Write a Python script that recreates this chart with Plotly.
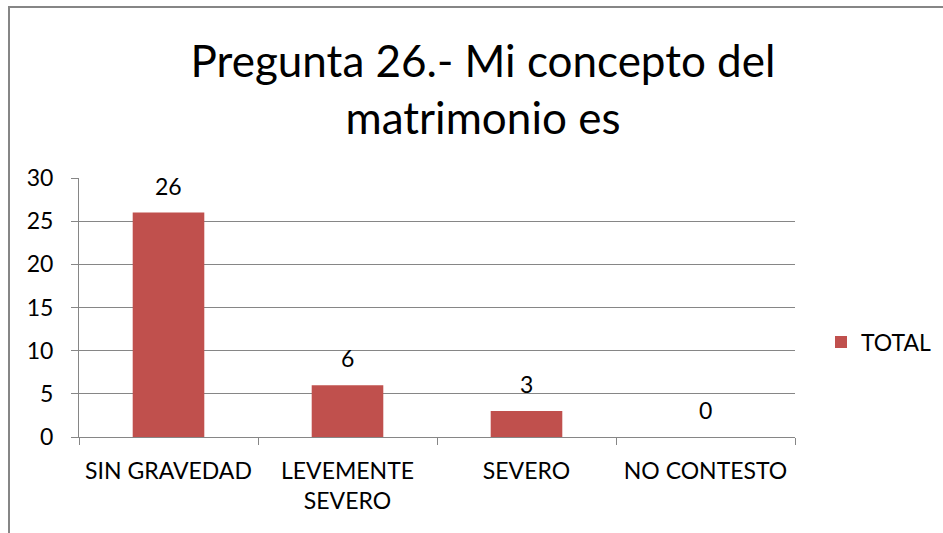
import plotly.graph_objects as go

categorias = ['SIN GRAVEDAD', 'LEVEMENTE<br>SEVERO', 'SEVERO', 'NO CONTESTO']
total = [26, 6, 3, 0]
serie = 'TOTAL'
titulo = 'Pregunta 26.- Mi concepto del<br>matrimonio es'

ROJO = '#C0504D'
GRIS = '#868686'
FUENTE = 'Lato, Carlito, sans-serif'

W, H = 943, 533
L, R, T, B = 79, 148, 178, 96
pw, ph = W - L - R, H - T - B


def px_x(x):
    return (x - L) / pw


def px_y(y):
    return (H - B - y) / ph


fig = go.Figure()
fig.add_trace(go.Bar(
    x=categorias,
    y=total,
    name=serie,
    marker=dict(color=ROJO, line=dict(width=0)),
    showlegend=True,
))

# etiquetas de datos sobre las barras
for c, v in zip(categorias, total):
    fig.add_annotation(x=c, y=v, text=str(v), showarrow=False,
                       yanchor='middle', yshift=27,
                       font=dict(size=23, color='#000000', family=FUENTE))

# borde del area del grafico
fig.add_shape(type='rect', xref='paper', yref='paper',
              x0=px_x(9), x1=px_x(960), y0=px_y(560), y1=px_y(7),
              line=dict(color=GRIS, width=2), layer='below')

fig.update_layout(
    width=W, height=H,
    margin=dict(l=L, r=R, t=T, b=B, autoexpand=False),
    paper_bgcolor='white', plot_bgcolor='white',
    font=dict(family=FUENTE, color='#000000', size=23),
    bargap=0.6,
    title=dict(text=titulo, xref='container', yref='container',
               x=483 / W, y=1 - 77 / H, xanchor='center', yanchor='middle',
               font=dict(size=44, family=FUENTE, color='#000000')),
    legend=dict(x=px_x(821), y=px_y(342), xanchor='left', yanchor='middle',
                font=dict(size=23, family=FUENTE), bgcolor='rgba(0,0,0,0)'),
)

fig.update_xaxes(
    showline=True, linecolor=GRIS, linewidth=1,
    ticks='outside', tickson='boundaries', ticklen=7, tickcolor=GRIS,
    ticklabelstandoff=13, showgrid=False,
    tickfont=dict(size=23, family=FUENTE),
)
fig.update_yaxes(
    range=[0, 30], dtick=5, tick0=0,
    showline=True, linecolor=GRIS, linewidth=1,
    ticks='outside', ticklen=7, tickcolor=GRIS,
    ticklabelstandoff=13,
    showgrid=True, gridcolor=GRIS, gridwidth=1,
    zeroline=False,
    tickfont=dict(size=23, family=FUENTE),
)

fig.write_html('out.html', config={'displayModeBar': False},
               post_script="document.body.style.margin='0';")
